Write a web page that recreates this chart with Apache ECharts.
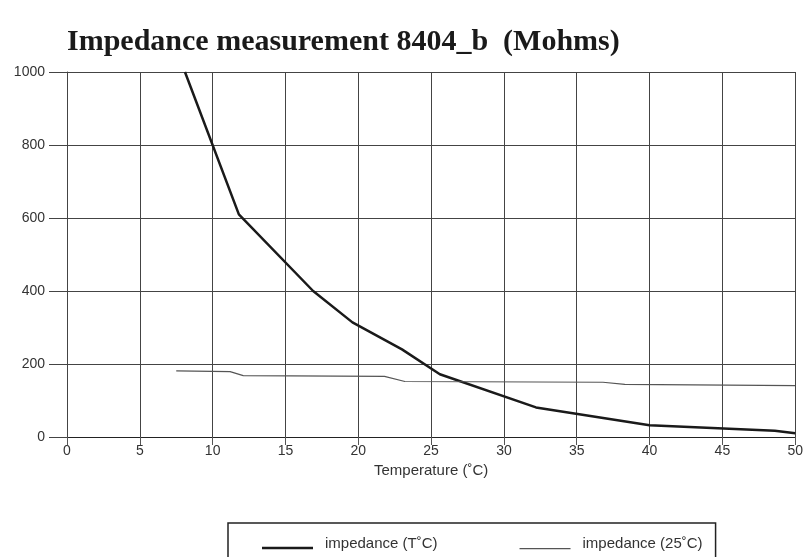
<!DOCTYPE html>
<html>
<head>
<meta charset="utf-8">
<script src="https://cdn.jsdelivr.net/npm/echarts@6/dist/echarts.min.js"></script>
<style>
  html, body { margin: 0; padding: 0; background: #fff; }
  #chart { width: 806px; height: 557px; }
</style>
</head>
<body>
<div id="chart"></div>
<script>
// impedance at the measuring temperature: [temperature, Mohms]
const impedanceT = [
  [8.1, 1000], [11.8, 610], [16.9, 400], [19.6, 314], [23.0, 240],
  [25.6, 172], [32.2, 81], [40.0, 32], [48.6, 17], [50.0, 10]
]
// impedance normalised to 25 C
const impedance25 = [
  [7.5, 181], [11.2, 179], [12.1, 168], [21.8, 166], [23.2, 152],
  [36.8, 150], [38.3, 144], [50.0, 141]
]
const seriesNames = ['impedance (T˚C)', 'impedance (25˚C)']
const xTicks = [0, 50, 5]
const yTicks = [0, 1000, 200]

const chart = echarts.init(document.getElementById('chart'), null, { renderer: 'canvas' })

const axisFont = { color: '#333', fontFamily: 'Liberation Sans', fontSize: 14 }

chart.setOption({
  animation: false,
  title: {
    text: 'Impedance measurement 8404_b  (Mohms)',
    left: 62,
    top: 22,
    textStyle: {
      fontFamily: 'Liberation Serif',
      fontWeight: 'bold',
      fontSize: 30,
      color: '#1a1a1a'
    }
  },
  grid: { left: 67, right: 9, top: 72, bottom: 120 },
  legend: {
    left: 228,
    top: 523,
    symbolKeepAspect: true,
    data: [
      // the tiny first sub-path only stretches the icon box so the bar sits low
      { name: seriesNames[0], icon: 'path://M0,0H51V0.01H0Z M0,9H51V11.6H0Z', itemStyle: { color: '#1a1a1a' } },
      { name: seriesNames[1], icon: 'path://M0,0H51V0.01H0Z M0,10.2H51V11.4H0Z', itemStyle: { color: '#555' } }
    ],
    itemWidth: 51,
    itemHeight: 12,
    itemGap: 82,
    padding: [13, 13, 40, 34],
    borderColor: '#222',
    borderWidth: 1.5,
    textStyle: { color: '#333', fontFamily: 'Liberation Sans', fontSize: 15, padding: [0, 0, 6, 7] }
  },
  xAxis: {
    type: 'value',
    min: xTicks[0],
    max: xTicks[1],
    interval: xTicks[2],
    name: 'Temperature (˚C)',
    nameLocation: 'middle',
    nameGap: 25,
    nameTextStyle: { color: '#333', fontFamily: 'Liberation Sans', fontSize: 15 },
    axisLine: { lineStyle: { color: '#222', width: 1 } },
    axisTick: { length: 8, lineStyle: { color: '#555' } },
    axisLabel: Object.assign({ margin: 7 }, axisFont),
    splitLine: { lineStyle: { color: '#444', width: 1 } }
  },
  yAxis: {
    type: 'value',
    min: yTicks[0],
    max: yTicks[1],
    interval: yTicks[2],
    axisLine: { show: true, lineStyle: { color: '#444', width: 1 } },
    axisTick: { show: true, length: 18, lineStyle: { color: '#444' } },
    axisLabel: Object.assign({ margin: 22, formatter: v => String(v) }, axisFont),
    splitLine: { lineStyle: { color: '#444', width: 1 } }
  },
  series: [
    {
      name: seriesNames[0],
      type: 'line',
      data: impedanceT,
      symbol: 'none',
      lineStyle: { color: '#1a1a1a', width: 2.5 },
      itemStyle: { color: '#1a1a1a' }
    },
    {
      name: seriesNames[1],
      type: 'line',
      data: impedance25,
      symbol: 'none',
      lineStyle: { color: '#555', width: 1.2 },
      itemStyle: { color: '#555' }
    }
  ]
})
</script>
</body>
</html>
